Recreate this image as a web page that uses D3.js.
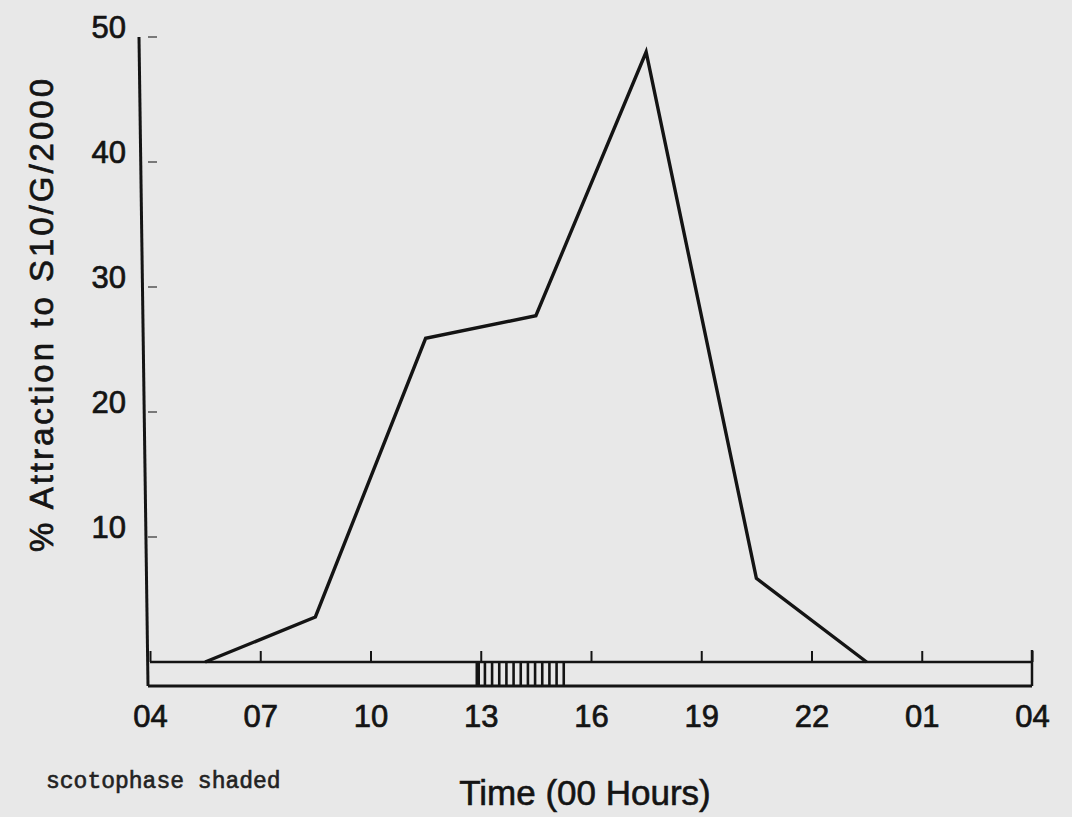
<!DOCTYPE html>
<html>
<head>
<meta charset="utf-8">
<script src="https://cdn.jsdelivr.net/npm/d3@7"></script>
<style>
  html, body { margin: 0; padding: 0; background: #e8e8e8; }
  svg { display: block; }
</style>
</head>
<body>
<script>
/* data */
var hours = [5.5, 8.5, 11.5, 14.5, 17.5, 20.5, 23.5]
var attraction = [0, 3.6, 25.9, 27.7, 48.8, 6.7, 0]
var xTicks = [4, 7, 10, 13, 16, 19, 22, 25, 28]
var xTickLabels = ['04', '07', '10', '13', '16', '19', '22', '01', '04']
var yTicks = [10, 20, 30, 40, 50]
var scotophase = [13, 15.35]

/* setup */
var width = 1072
var height = 817
var boxTop = 662
var boxBottom = 686
var sans = '"Liberation Sans", Arial, sans-serif'
var ink = '#141414'

var svg = d3.select('body').append('svg')
    .attr('width', width)
    .attr('height', height)

svg.append('rect')
    .attr('width', width).attr('height', height)
    .attr('fill', '#e8e8e8')

var x = d3.scaleLinear().domain([4, 28]).range([150, 1032])
var y = d3.scaleLinear().domain([0, 50]).range([boxTop, 37])

// heavier text, closer to the scanned lettering
function heavy(sel, w) {
    sel.attr('fill', ink).attr('stroke', ink).attr('stroke-width', w)
}

/* y axis: line plus short detached dashes */
svg.append('line')
    .attr('x1', 139).attr('y1', y(50))
    .attr('x2', 148).attr('y2', boxBottom)
    .attr('stroke', ink).attr('stroke-width', 3)

var yAxis = svg.append('g')
    .attr('transform', 'translate(126,0)')
    .call(d3.axisLeft(y).tickValues(yTicks).tickSize(0).tickPadding(0))
yAxis.select('.domain').remove()
yAxis.selectAll('text')
    .attr('dy', 0)
    .attr('font-family', sans)
    .attr('font-size', 31)
    .call(heavy, 0.7)

svg.append('g').selectAll('line').data(yTicks)
    .enter().append('line')
    .attr('x1', 148).attr('x2', 157)
    .attr('y1', function(d) { return y(d) })
    .attr('y2', function(d) { return y(d) })
    .attr('stroke', '#555').attr('stroke-width', 1.5)

/* time bar */
var g_bar = svg.append('g')

// scotophase hatching
var hatch = d3.range(scotophase[0], scotophase[1], 0.195)
g_bar.selectAll('line.hatch').data(hatch)
    .enter().append('line')
    .attr('class', 'hatch')
    .attr('x1', function(d) { return x(d) - 3 })
    .attr('x2', function(d) { return x(d) - 3 })
    .attr('y1', boxTop).attr('y2', boxBottom)
    .attr('stroke', ink)
    .attr('stroke-width', function(d, i) { return i === 0 ? 4.5 : 2.6 })

g_bar.append('line')
    .attr('x1', x(4)).attr('x2', x(28))
    .attr('y1', boxTop).attr('y2', boxTop)
    .attr('stroke', ink).attr('stroke-width', 2.5)
g_bar.append('line')
    .attr('x1', x(4) - 2).attr('x2', x(28))
    .attr('y1', boxBottom).attr('y2', boxBottom)
    .attr('stroke', ink).attr('stroke-width', 3)
g_bar.append('line')
    .attr('x1', x(28)).attr('x2', x(28))
    .attr('y1', boxTop - 12).attr('y2', boxBottom)
    .attr('stroke', ink).attr('stroke-width', 2.5)

var xAxis = svg.append('g')
    .attr('transform', 'translate(0,' + boxTop + ')')
    .call(d3.axisTop(x).tickValues(xTicks).tickSize(11)
        .tickFormat(function(d, i) { return xTickLabels[i] }))
xAxis.select('.domain').remove()
xAxis.selectAll('line').attr('stroke', ink).attr('stroke-width', 2)
xAxis.selectAll('text')
    .attr('y', 65)
    .attr('dy', 0)
    .attr('font-family', sans)
    .attr('font-size', 31)
    .call(heavy, 0.7)

/* the series */
var line = d3.line()
    .x(function(d, i) { return x(hours[i]) })
    .y(function(d) { return y(d) })

svg.append('path')
    .datum(attraction)
    .attr('d', line)
    .attr('fill', 'none')
    .attr('stroke', ink)
    .attr('stroke-width', 3.4)
    .attr('stroke-linejoin', 'miter')

/* labels */
svg.append('text')
    .attr('transform', 'translate(53,314) rotate(-90)')
    .attr('text-anchor', 'middle')
    .attr('font-family', sans)
    .attr('font-size', 33)
    .attr('letter-spacing', 3)
    .call(heavy, 0.7)
    .text('% Attraction to S10/G/2000')

svg.append('text')
    .attr('x', 585).attr('y', 805)
    .attr('text-anchor', 'middle')
    .attr('font-family', sans)
    .attr('font-size', 35)
    .call(heavy, 0.6)
    .text('Time (00 Hours)')

svg.append('text')
    .attr('x', 46).attr('y', 788)
    .attr('font-family', '"Liberation Mono", "DejaVu Sans Mono", monospace')
    .attr('font-size', 23)
    .attr('fill', '#222').attr('stroke', '#222').attr('stroke-width', 0.6)
    .text('scotophase shaded')
</script>
</body>
</html>
